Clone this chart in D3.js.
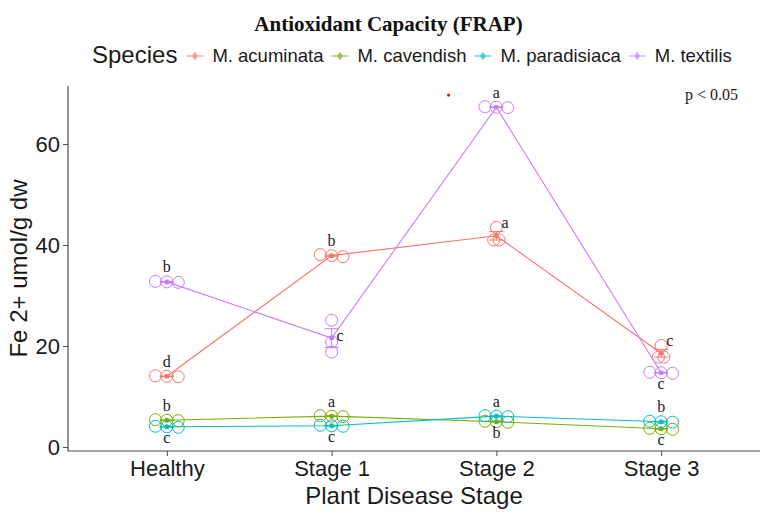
<!DOCTYPE html>
<html>
<head>
<meta charset="utf-8">
<script src="https://cdnjs.cloudflare.com/ajax/libs/d3/7.8.5/d3.min.js"></script>
<style>
  body { margin: 0; background: #fff; }
  .tick text { font-family: "Liberation Sans", Arial, sans-serif; fill: #1a1a1a; }
</style>
</head>
<body>
<svg id="chart"></svg>
<script>
// ---- data ----
var stages = ["Healthy", "Stage 1", "Stage 2", "Stage 3"];
var species = ["M. acuminata", "M. cavendish", "M. paradisiaca", "M. textilis"];
var colors = ["#F8766D", "#7CAE00", "#00BFC4", "#C77CFF"];
var yTicks = [0, 20, 40, 60];

// three replicates per stage (Fe 2+ umol/g dw)
var acuminata   = [[13.9, 14.0, 14.1], [37.7, 37.9, 38.1], [43.5, 41.0, 41.0], [20.1, 17.8, 17.8]];
var cavendish   = [[5.2, 5.3, 5.4],    [6.0, 6.1, 6.2],    [4.9, 5.0, 5.1],    [3.5, 3.6, 3.7]];
var paradisiaca = [[3.9, 4.0, 4.1],    [4.1, 4.2, 4.3],    [6.0, 6.1, 6.2],    [4.9, 5.0, 5.1]];
var textilis    = [[32.6, 32.7, 32.8], [25.1, 20.8, 18.8], [67.2, 67.3, 67.4], [14.6, 14.7, 14.8]];

// significance letters and where they sit (t = above, b = below, r = right of mean, tr = right of top point)
var acuminataLetters   = ["d", "b", "a", "c"];
var cavendishLetters   = ["b", "a", "b", "c"];
var paradisiacaLetters = ["c", "c", "a", "b"];
var textilisLetters    = ["b", "c", "a", "c"];
var acuminataSide   = ["t", "t", "tr", "tr"];
var cavendishSide   = ["t", "t", "b", "b"];
var paradisiacaSide = ["b", "b", "t", "t"];
var textilisSide    = ["t", "r", "t", "b"];

// stray red dot in the figure (stage position, value)
var strayDot = [1.71, 69.7];

var replicates = [acuminata, cavendish, paradisiaca, textilis];
var letters = [acuminataLetters, cavendishLetters, paradisiacaLetters, textilisLetters];
var sides = [acuminataSide, cavendishSide, paradisiacaSide, textilisSide];

// ---- layout ----
var width = 777, height = 514;
var margin = {left: 68, right: 760, top: 86, bottom: 451};
var r = 6;

var svg = d3.select("#chart").attr("width", width).attr("height", height);

var x = d3.scalePoint().domain(stages).range([margin.left, margin.right]).padding(0.6);
var y = d3.scaleLinear().domain([-0.8, 71.5]).range([margin.bottom, margin.top]);

function se(a) { return d3.deviation(a) / Math.sqrt(a.length); }

// spread near-equal replicates sideways like a beeswarm
function swarm(vals) {
  var pts = vals.map(function(v) { return {v: v, py: y(v)}; });
  pts.sort(function(a, b) { return a.py - b.py; });
  var groups = [], cur = [];
  pts.forEach(function(p) {
    if (cur.length && p.py - cur[0].py > 5) { groups.push(cur); cur = []; }
    cur.push(p);
  });
  if (cur.length) groups.push(cur);
  groups.forEach(function(g) {
    var step = g.length == 2 ? r * 0.9 : r * 1.9;
    g.forEach(function(p, i) { p.dx = (i - (g.length - 1) / 2) * step; });
  });
  return pts;
}

// title
svg.append("text")
  .attr("x", width / 2).attr("y", 31)
  .attr("text-anchor", "middle")
  .style("font-family", "'Liberation Serif', 'Times New Roman', serif")
  .style("font-weight", "bold").style("font-size", "21px").style("fill", "#111")
  .text("Antioxidant Capacity (FRAP)");

// legend
var lg = svg.append("g");
var lx = 92;
var sp = lg.append("text").attr("x", lx).attr("y", 63)
  .style("font-family", "'Liberation Sans', Arial, sans-serif").style("font-size", "24px").style("fill", "#1a1a1a")
  .text("Species");
lx += sp.node().getComputedTextLength() + 9;
species.forEach(function(s, i) {
  var k = lg.append("g").attr("transform", "translate(" + lx + ",56)").style("opacity", 0.75);
  k.append("line").attr("x1", 0).attr("x2", 17).attr("y1", 0).attr("y2", 0)
    .attr("stroke", colors[i]).attr("stroke-width", 1.2);
  k.append("line").attr("x1", 8.5).attr("x2", 8.5).attr("y1", -4).attr("y2", 4)
    .attr("stroke", colors[i]).attr("stroke-width", 1.2);
  k.append("circle").attr("cx", 8.5).attr("cy", 0).attr("r", 2.5).attr("fill", colors[i]);
  var t = lg.append("text").attr("x", lx + 26).attr("y", 62)
    .style("font-family", "'Liberation Sans', Arial, sans-serif").style("font-size", "18.5px").style("fill", "#1a1a1a")
    .text(s);
  lx += 26 + t.node().getComputedTextLength() + 8;
});

// axes
var ya = svg.append("g").attr("transform", "translate(" + margin.left + ",0)")
  .call(d3.axisLeft(y).tickValues(yTicks).tickSize(5).tickPadding(3));
ya.select(".domain").remove();
ya.selectAll(".tick line").attr("stroke", "#4d4d4d");
ya.selectAll(".tick text").style("font-size", "22px").attr("dy", "0.36em");

var xa = svg.append("g").attr("transform", "translate(0," + margin.bottom + ")")
  .call(d3.axisBottom(x).tickSize(5).tickPadding(4));
xa.select(".domain").remove();
xa.selectAll(".tick line").attr("stroke", "#4d4d4d");
xa.selectAll(".tick text").style("font-size", "22px");

svg.append("path")
  .attr("d", "M" + margin.left + "," + margin.top + "V" + margin.bottom + "H" + margin.right)
  .attr("fill", "none").attr("stroke", "#4d4d4d").attr("stroke-width", 1.2);

// axis titles
svg.append("text")
  .attr("x", (margin.left + margin.right) / 2).attr("y", 504).attr("text-anchor", "middle")
  .style("font-family", "'Liberation Sans', Arial, sans-serif").style("font-size", "24px").style("fill", "#1a1a1a")
  .text("Plant Disease Stage");
svg.append("text")
  .attr("transform", "translate(27," + ((margin.top + margin.bottom) / 2) + ") rotate(-90)")
  .attr("text-anchor", "middle")
  .style("font-family", "'Liberation Sans', Arial, sans-serif").style("font-size", "24px").style("fill", "#1a1a1a")
  .text("Fe 2+ umol/g dw");

// series
var plot = svg.append("g");
replicates.forEach(function(ser, si) {
  var col = colors[si];
  var means = ser.map(function(a) { return d3.mean(a); });
  plot.append("path")
    .datum(means)
    .attr("d", d3.line().x(function(d, i) { return x(stages[i]); }).y(function(d) { return y(d); }))
    .attr("fill", "none").attr("stroke", col).attr("stroke-width", 1.1);

  ser.forEach(function(vals, gi) {
    var cx = x(stages[gi]);
    var m = means[gi], e = se(vals);
    var pts = swarm(vals);
    plot.selectAll(null).data(pts).enter().append("circle")
      .attr("cx", function(p) { return cx + p.dx; })
      .attr("cy", function(p) { return p.py; })
      .attr("r", r).attr("fill", "none").attr("stroke", col).attr("stroke-width", 1);
    // error bar
    var eb = plot.append("g").attr("stroke", col).attr("stroke-width", 1);
    eb.append("line").attr("x1", cx).attr("x2", cx).attr("y1", y(m - e)).attr("y2", y(m + e));
    eb.append("line").attr("x1", cx - 7).attr("x2", cx + 7).attr("y1", y(m - e)).attr("y2", y(m - e));
    eb.append("line").attr("x1", cx - 7).attr("x2", cx + 7).attr("y1", y(m + e)).attr("y2", y(m + e));
    plot.append("circle").attr("cx", cx).attr("cy", y(m)).attr("r", 2.5).attr("fill", col);

    // letter
    var side = sides[si][gi];
    var topY = y(d3.max(vals)), botY = y(d3.min(vals));
    var lxp = cx, lyp, anchor = "middle";
    if (side == "t") lyp = topY - r - 3;
    else if (side == "b") lyp = botY + r + 10;
    else if (side == "r") { lxp = cx + 5; lyp = y(m) + 3; anchor = "start"; }
    else { lxp = cx + 5; lyp = topY + 1; anchor = "start"; }
    plot.append("text").attr("x", lxp).attr("y", lyp).attr("text-anchor", anchor)
      .style("font-family", "'Liberation Serif', 'Times New Roman', serif").style("font-size", "16px").style("fill", "#1a1a1a")
      .text(letters[si][gi]);
  });
});

// stray dot and p-value note
svg.append("circle")
  .attr("cx", x(stages[0]) + strayDot[0] * x.step()).attr("cy", y(strayDot[1]))
  .attr("r", 1.6).attr("fill", "#e8100f");
svg.append("text")
  .attr("x", 738).attr("y", 100).attr("text-anchor", "end")
  .style("font-family", "'Liberation Serif', 'Times New Roman', serif").style("font-size", "16px").style("fill", "#1a1a1a")
  .text("p < 0.05");
</script>
</body>
</html>
